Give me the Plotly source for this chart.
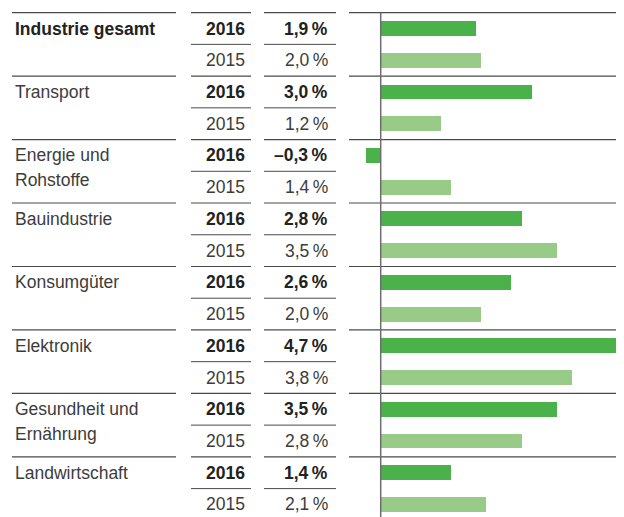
import plotly.graph_objects as go

# Branchen und Wachstumsraten (in %)
branchen = [
    ["Industrie gesamt"],
    ["Transport"],
    ["Energie und", "Rohstoffe"],
    ["Bauindustrie"],
    ["Konsumgüter"],
    ["Elektronik"],
    ["Gesundheit und", "Ernährung"],
    ["Landwirtschaft"],
]
jahre = ["2016", "2015"]
werte_2016 = [1.9, 3.0, -0.3, 2.8, 2.6, 4.7, 3.5, 1.4]
werte_2015 = [2.0, 1.2, 1.4, 3.5, 2.0, 3.8, 2.8, 2.1]

farbe_2016 = "#4bb14a"
farbe_2015 = "#98ca88"
text_dunkel = "#222222"
text_normal = "#3c3c3c"
linie = "#4a4a4a"

# Fenster 624x517, Seite hat 8px Rand -> Grafik 616x509
OFF = 8
SCREEN_W, SCREEN_H = 624, 517
W, H = SCREEN_W - OFF, SCREEN_H - OFF
row_px = 31.73      # Höhe einer Zeile
row0_px = 28.5      # Mitte der ersten Zeile (Bildschirm)
px_per_pct = 50.3   # Balkenskala
zero_px = 380.7     # Nulllinie (Bildschirm)

font_fam = "Liberation Sans, Arial, sans-serif"
fs = 17.5


def fmt(v):
    s = f"{abs(v):.1f}".replace(".", ",")
    return ("–" if v < 0 else "") + s + "\u2009%"


def px(x):
    # Bildschirm-x -> paper
    return (x - OFF) / W


n = len(branchen)
rows_2016 = [2 * i for i in range(n)]
rows_2015 = [2 * i + 1 for i in range(n)]

fig = go.Figure()
fig.add_trace(go.Bar(x=werte_2016, y=rows_2016, orientation="h", width=0.47,
                     marker=dict(color=farbe_2016, line=dict(width=0)), hoverinfo="x"))
fig.add_trace(go.Bar(x=werte_2015, y=rows_2015, orientation="h", width=0.47,
                     marker=dict(color=farbe_2015, line=dict(width=0)), hoverinfo="x"))

annotations = []
shapes = []

for i, name in enumerate(branchen):
    r16, r15 = rows_2016[i], rows_2015[i]
    # Branchenname
    for j, zeile in enumerate(name):
        annotations.append(dict(
            x=px(13), xref="paper", xanchor="left",
            y=r16 + j * 25 / row_px, yref="y", yanchor="middle",
            text=f"<b>{zeile}</b>" if i == 0 else zeile, showarrow=False,
            font=dict(size=fs, color=text_dunkel if i == 0 else text_normal, family=font_fam)))
    # Jahre und Werte
    for r, jahr, wert, bold in [(r16, jahre[0], werte_2016[i], True), (r15, jahre[1], werte_2015[i], False)]:
        for xx, txt in [(247, jahr), (330, fmt(wert))]:
            annotations.append(dict(
                x=px(xx), xref="paper", xanchor="right",
                y=r, yref="y", yanchor="middle",
                text=f"<b>{txt}</b>" if bold else txt, showarrow=False,
                font=dict(size=fs, color=text_dunkel if bold else text_normal, family=font_fam)))
    # Trennlinien oberhalb der Gruppe
    for x0, x1 in [(12, 176), (191, 251), (264, 336), (349, 624)]:
        shapes.append(dict(type="line", xref="paper", yref="y", x0=px(x0), x1=px(x1),
                           y0=r16 - 0.5, y1=r16 - 0.5, line=dict(color=linie, width=1.2)))
    # Linie zwischen 2016 und 2015
    for x0, x1 in [(191, 251), (264, 336)]:
        shapes.append(dict(type="line", xref="paper", yref="y", x0=px(x0), x1=px(x1),
                           y0=r16 + 0.5, y1=r16 + 0.5, line=dict(color=linie, width=1)))

# Nullachse
shapes.append(dict(type="line", xref="x", yref="y", x0=0, x1=0, y0=-0.5, y1=2 * n,
                   line=dict(color="#6e6e6e", width=1.5)))

fig.update_layout(
    width=W, height=H,
    margin=dict(l=0, r=0, t=0, b=0),
    paper_bgcolor="white", plot_bgcolor="white",
    showlegend=False, bargap=0,
    xaxis=dict(range=[(OFF - zero_px) / px_per_pct, (SCREEN_W - zero_px) / px_per_pct],
               showgrid=False, zeroline=False, showticklabels=False, fixedrange=True),
    yaxis=dict(range=[(SCREEN_H - row0_px) / row_px, (OFF - row0_px) / row_px],
               showgrid=False, zeroline=False, showticklabels=False, fixedrange=True),
    annotations=annotations,
    shapes=shapes,
)

fig.write_html("out.html")
